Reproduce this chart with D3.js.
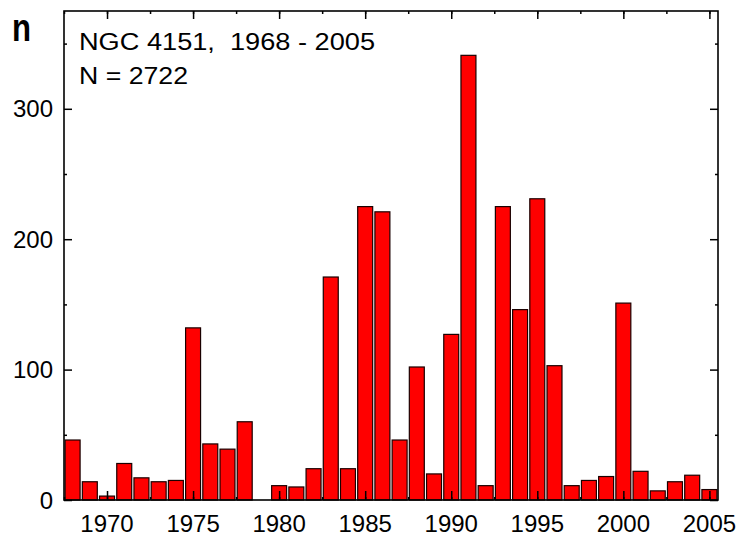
<!DOCTYPE html>
<html>
<head>
<meta charset="utf-8">
<script src="https://cdnjs.cloudflare.com/ajax/libs/d3/7.8.5/d3.min.js"></script>
<style>
  body { margin: 0; background: #fff; }
  svg { display: block; font-family: "Liberation Sans", Arial, sans-serif; }
</style>
</head>
<body>
<script>
// data
var years = [1968, 1969, 1970, 1971, 1972, 1973, 1974, 1975, 1976, 1977,
             1978, 1979, 1980, 1981, 1982, 1983, 1984, 1985, 1986, 1987,
             1988, 1989, 1990, 1991, 1992, 1993, 1994, 1995, 1996, 1997,
             1998, 1999, 2000, 2001, 2002, 2003, 2004, 2005];
var counts = [46, 14, 3, 28, 17, 14, 15, 132, 43, 39,
              60, 0, 11, 10, 24, 171, 24, 225, 221, 46,
              102, 20, 127, 341, 11, 225, 146, 231, 103, 11,
              15, 18, 151, 22, 7, 14, 19, 8];
var xTicks = [1970, 1975, 1980, 1985, 1990, 1995, 2000, 2005];
var yTicks = [0, 100, 200, 300];
var title = "NGC 4151,  1968 - 2005";
var subtitle = "N = 2722";

var W = 736, H = 537;
var margin = {top: 11, right: 18, bottom: 37, left: 64},
    width = W - margin.left - margin.right,
    height = H - margin.top - margin.bottom;

var svg = d3.select("body").append("svg")
    .attr("width", W)
    .attr("height", H);

var g = svg.append("g")
    .attr("transform", "translate(" + margin.left + "," + margin.top + ")");

var x = d3.scaleLinear().domain([1967.5, 2005.5]).range([0, width]);
var y = d3.scaleLinear().domain([0, 375]).range([height, 0]);

var barW = (x(1) - x(0)) * 0.87;

// bars
g.append("g").selectAll("rect")
    .data(years)
  .enter().append("rect")
    .attr("x", function(d) { return x(d) - barW / 2; })
    .attr("width", barW)
    .attr("y", function(d, i) { return y(counts[i]); })
    .attr("height", function(d, i) { return y(0) - y(counts[i]); })
    .attr("fill", "#ff0000")
    .attr("stroke", "#1a0000")
    .attr("stroke-width", 1.2);

// ticks, all pointing inward
var xMinor = d3.range(1967.5, 2005.6, 2.5);
var yMinor = d3.range(50, 375, 100);

function axes(sel, axis) { sel.call(axis); sel.select(".domain").remove(); sel.selectAll("text").remove(); }

g.append("g").attr("transform", "translate(0," + height + ")")
    .call(axes, d3.axisBottom(x).tickValues(xMinor).tickSize(-3));
g.append("g").attr("transform", "translate(0," + height + ")")
    .call(axes, d3.axisBottom(x).tickValues(xTicks).tickSize(-9));
g.append("g")
    .call(axes, d3.axisTop(x).tickValues(xMinor).tickSize(-3));
g.append("g")
    .call(axes, d3.axisTop(x).tickValues(xTicks).tickSize(-8));
g.append("g")
    .call(axes, d3.axisLeft(y).tickValues(yMinor).tickSize(-3));
g.append("g")
    .call(axes, d3.axisLeft(y).tickValues(yTicks).tickSize(-8));
g.append("g").attr("transform", "translate(" + width + ",0)")
    .call(axes, d3.axisRight(y).tickValues(yMinor).tickSize(-3));
g.append("g").attr("transform", "translate(" + width + ",0)")
    .call(axes, d3.axisRight(y).tickValues(yTicks).tickSize(-8));

g.selectAll(".tick line").attr("stroke", "#000").attr("stroke-width", 1.5);

// tick labels
g.append("g").selectAll("text")
    .data(xTicks)
  .enter().append("text")
    .attr("x", function(d) { return x(d); })
    .attr("y", height + 32)
    .attr("text-anchor", "middle")
    .attr("font-size", "24px")
    .attr("fill", "#000")
    .text(function(d) { return d; });

g.append("g").selectAll("text")
    .data(yTicks)
  .enter().append("text")
    .attr("x", -11)
    .attr("y", function(d) { return y(d); })
    .attr("dy", "0.36em")
    .attr("text-anchor", "end")
    .attr("font-size", "24px")
    .attr("fill", "#000")
    .text(function(d) { return d; });

// frame
g.append("rect")
    .attr("width", width)
    .attr("height", height)
    .attr("fill", "none")
    .attr("stroke", "#000")
    .attr("stroke-width", 1.6);

// y label
svg.append("text")
    .attr("x", 12)
    .attr("y", 41)
    .attr("font-size", "38px")
    .attr("font-weight", "bold")
    .attr("textLength", 19)
    .attr("lengthAdjust", "spacingAndGlyphs")
    .text("n");

// annotation
svg.append("text")
    .attr("x", 79)
    .attr("y", 49.5)
    .attr("font-size", "23.5px")
    .style("white-space", "pre")
    .attr("textLength", 296)
    .attr("lengthAdjust", "spacingAndGlyphs")
    .text(title);

svg.append("text")
    .attr("x", 79)
    .attr("y", 83.5)
    .attr("font-size", "23.5px")
    .attr("textLength", 109)
    .attr("lengthAdjust", "spacingAndGlyphs")
    .text(subtitle);
</script>
</body>
</html>
